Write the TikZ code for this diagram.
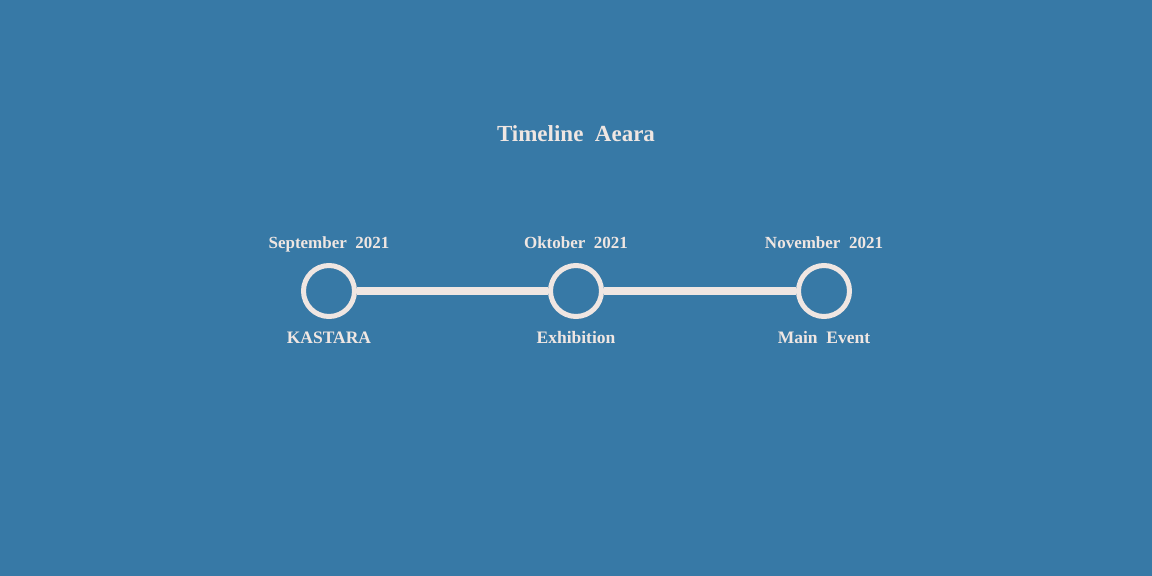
\documentclass[tikz,border=0pt]{standalone}
\usepackage{fontspec}
\setmainfont{Liberation Serif}
\definecolor{bg}{HTML}{3779A6}
\definecolor{fg}{HTML}{EFE6E2}
\begin{document}
\begin{tikzpicture}[x=1pt,y=-1pt,
  lbl/.style={text=fg,font=\bfseries\fontsize{17}{20}\selectfont,anchor=base,inner sep=0pt},
  ev/.style={lbl,font=\bfseries\fontsize{17.5}{21}\selectfont},
  dot/.style={circle,draw=fg,line width=5pt,minimum size=51pt,inner sep=0pt},
  link/.style={draw=fg,line width=8pt}]
\fill[bg] (0,0) rectangle (1152,576);
\useasboundingbox (0,0) rectangle (1152,576);
\node[lbl,font=\bfseries\fontsize{23}{27}\selectfont] (title) at (576,141) {Timeline\ \ Aeara};
\node[dot] (c1) at (329,291) {};
\node[dot] (c2) at (576,291) {};
\node[dot] (c3) at (824,291) {};
\path[link] (c1) -- (c2);
\path[link] (c2) -- (c3);
\node[lbl] (d1) at (329,248) {September\ \ 2021};
\node[lbl] (d2) at (576,248) {Oktober\ \ 2021};
\node[lbl] (d3) at (824,248) {November\ \ 2021};
\node[ev] (e1) at (329,343) {KASTARA};
\node[ev] (e2) at (576,343) {Exhibition};
\node[ev] (e3) at (824,343) {Main\ \ Event};
\end{tikzpicture}
\end{document}
